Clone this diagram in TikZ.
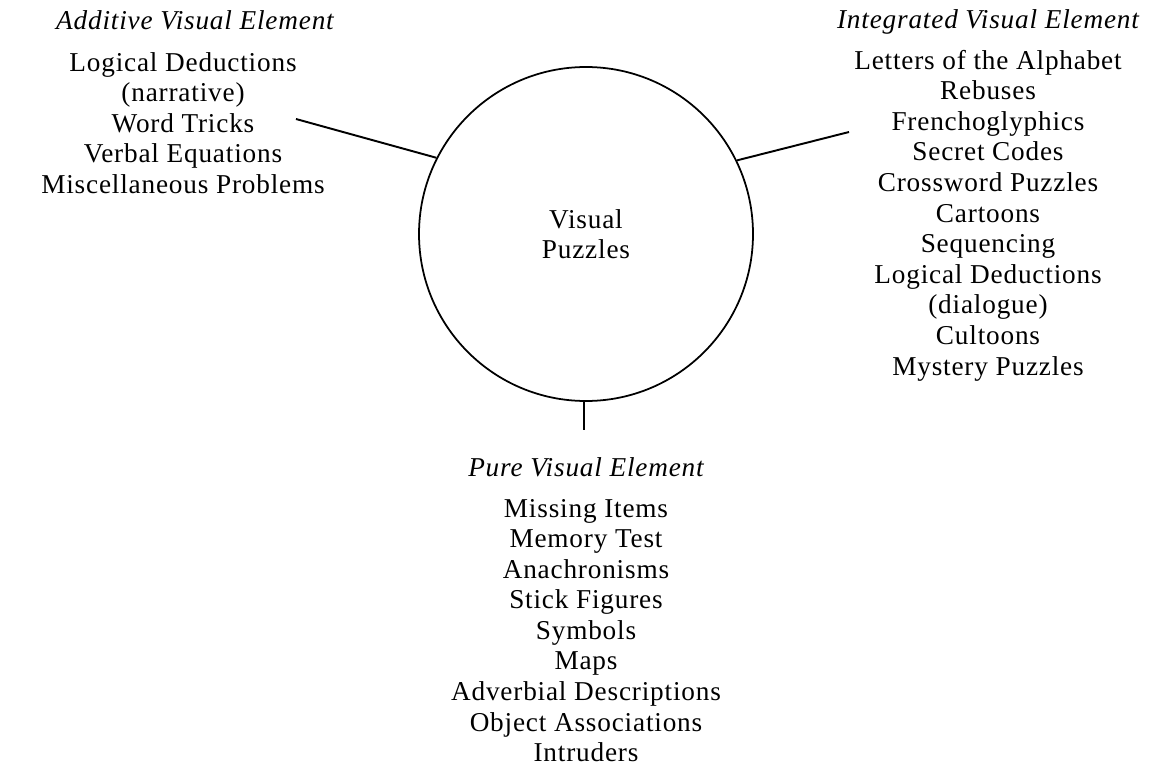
\documentclass[tikz,border=0pt]{standalone}
\usepackage{fontspec}
\setmainfont{Liberation Serif}[LetterSpace=3]
\usepackage{tikz}
\tikzset{
  listtext/.style = {align=center, font=\fontsize{15.5}{17.4}\selectfont},
  headtext/.style = {font=\fontsize{15.5}{17.4}\selectfont\itshape},
  spoke/.style = {line width=1.1pt}
}

\begin{document}
\begin{tikzpicture}
\useasboundingbox (0,0) rectangle (23.16,-15.3);
\node[draw, circle, line width=1pt, minimum size=6.68cm, listtext] (puzzles) at (11.72,-4.68) {Visual\\Puzzles};

\node[headtext, anchor=west] (addhead) at (1.00,-0.40) {Additive Visual Element};
\node[listtext] (addlist) at (3.66,-2.46) {Logical Deductions\\(narrative)\\Word Tricks\\Verbal Equations\\Miscellaneous Problems};

\node[headtext] (inthead) at (19.76,-0.44) {Integrated Visual Element};
\node[listtext] (intlist) at (19.76,-4.31) {Letters of the Alphabet\\Rebuses\\Frenchoglyphics\\Secret Codes\\Crossword Puzzles\\Cartoons\\Sequencing\\Logical Deductions\\(dialogue)\\Cultoons\\Mystery Puzzles};

\node[headtext] (purehead) at (11.72,-9.34) {Pure Visual Element};
\node[listtext] (purelist) at (11.72,-12.61) {Missing Items\\Memory Test\\Anachronisms\\Stick Figures\\Symbols\\Maps\\Adverbial Descriptions\\Object Associations\\Intruders};

\coordinate (addend) at (5.92,-2.38);
\coordinate (intend) at (16.98,-2.64);
\coordinate (pureend) at (11.68,-8.60);
\draw[spoke] (addend) -- (puzzles.153);
\draw[spoke] (puzzles.26) -- (intend);
\draw[spoke] (puzzles.south -| pureend) -- (pureend);
\end{tikzpicture}
\end{document}
